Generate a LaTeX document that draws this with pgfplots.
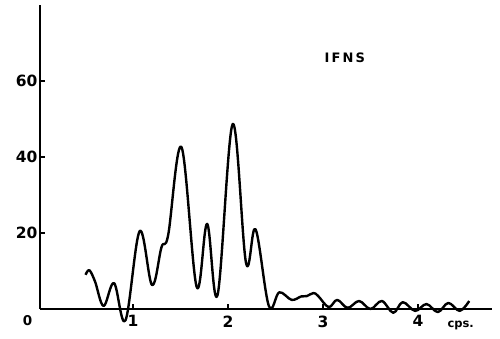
\documentclass[border=0pt]{standalone}
\usepackage{fontspec}
\setmainfont{DejaVu Sans}
\usepackage{pgfplots}
\pgfplotsset{compat=1.18}
\begin{document}
\begin{tikzpicture}
\begin{axis}[
  scale only axis,
  width=452pt, height=304pt,
  xmin=0.02, xmax=4.78, ymin=0, ymax=80,
  axis x line=bottom, axis y line=left,
  axis line style={-, line width=2pt},
  clip=false,
  xtick={1,2,3,4}, ytick={20,40,60},
  tick align=inside, major tick length=5pt,
  tick style={line width=1.4pt, black},
  /pgf/number format/assume math mode=true,
  ticklabel style={font=\fontsize{15.5}{15.5}\selectfont\bfseries},
  xticklabel style={yshift=-3pt},
  yticklabel style={xshift=1pt},
]
\addplot[black, line width=2.4pt, smooth, tension=0.6, line join=round] coordinates {
(0.50,9.0) (0.54,10.2) (0.60,7.2) (0.69,0.8) (0.80,6.8) (0.92,-3.0)
(1.07,20.5) (1.20,6.3) (1.30,16.3) (1.37,19.5) (1.51,42.6) (1.67,5.8)
(1.78,22.4) (1.89,3.7) (2.05,48.7) (2.19,12.1) (2.29,21.0) (2.43,0.8)
(2.54,4.4) (2.67,2.4) (2.77,3.3) (2.83,3.4) (2.90,4.2) (2.95,3.4)
(3.06,0.5) (3.15,2.4) (3.26,0.3) (3.38,2.1) (3.50,0.0) (3.62,2.1)
(3.74,-1.0) (3.84,1.8) (3.97,-0.5) (4.09,1.3) (4.21,-0.8) (4.32,1.6)
(4.44,-0.5) (4.54,2.1)
};
\node[font=\fontsize{13.5}{13.5}\selectfont\bfseries] at (axis cs:-0.11,-3) {0};
\node[font=\fontsize{13}{13}\selectfont\bfseries] at (axis cs:3.23,66.2) {I\,F\,N\,S};
\node[font=\fontsize{11.5}{11.5}\selectfont\bfseries] at (axis cs:4.45,-4.3) {cps.};
\end{axis}
\pgfresetboundingbox
\path (-40pt,-30pt) rectangle (460pt,309pt);
\end{tikzpicture}
\end{document}
